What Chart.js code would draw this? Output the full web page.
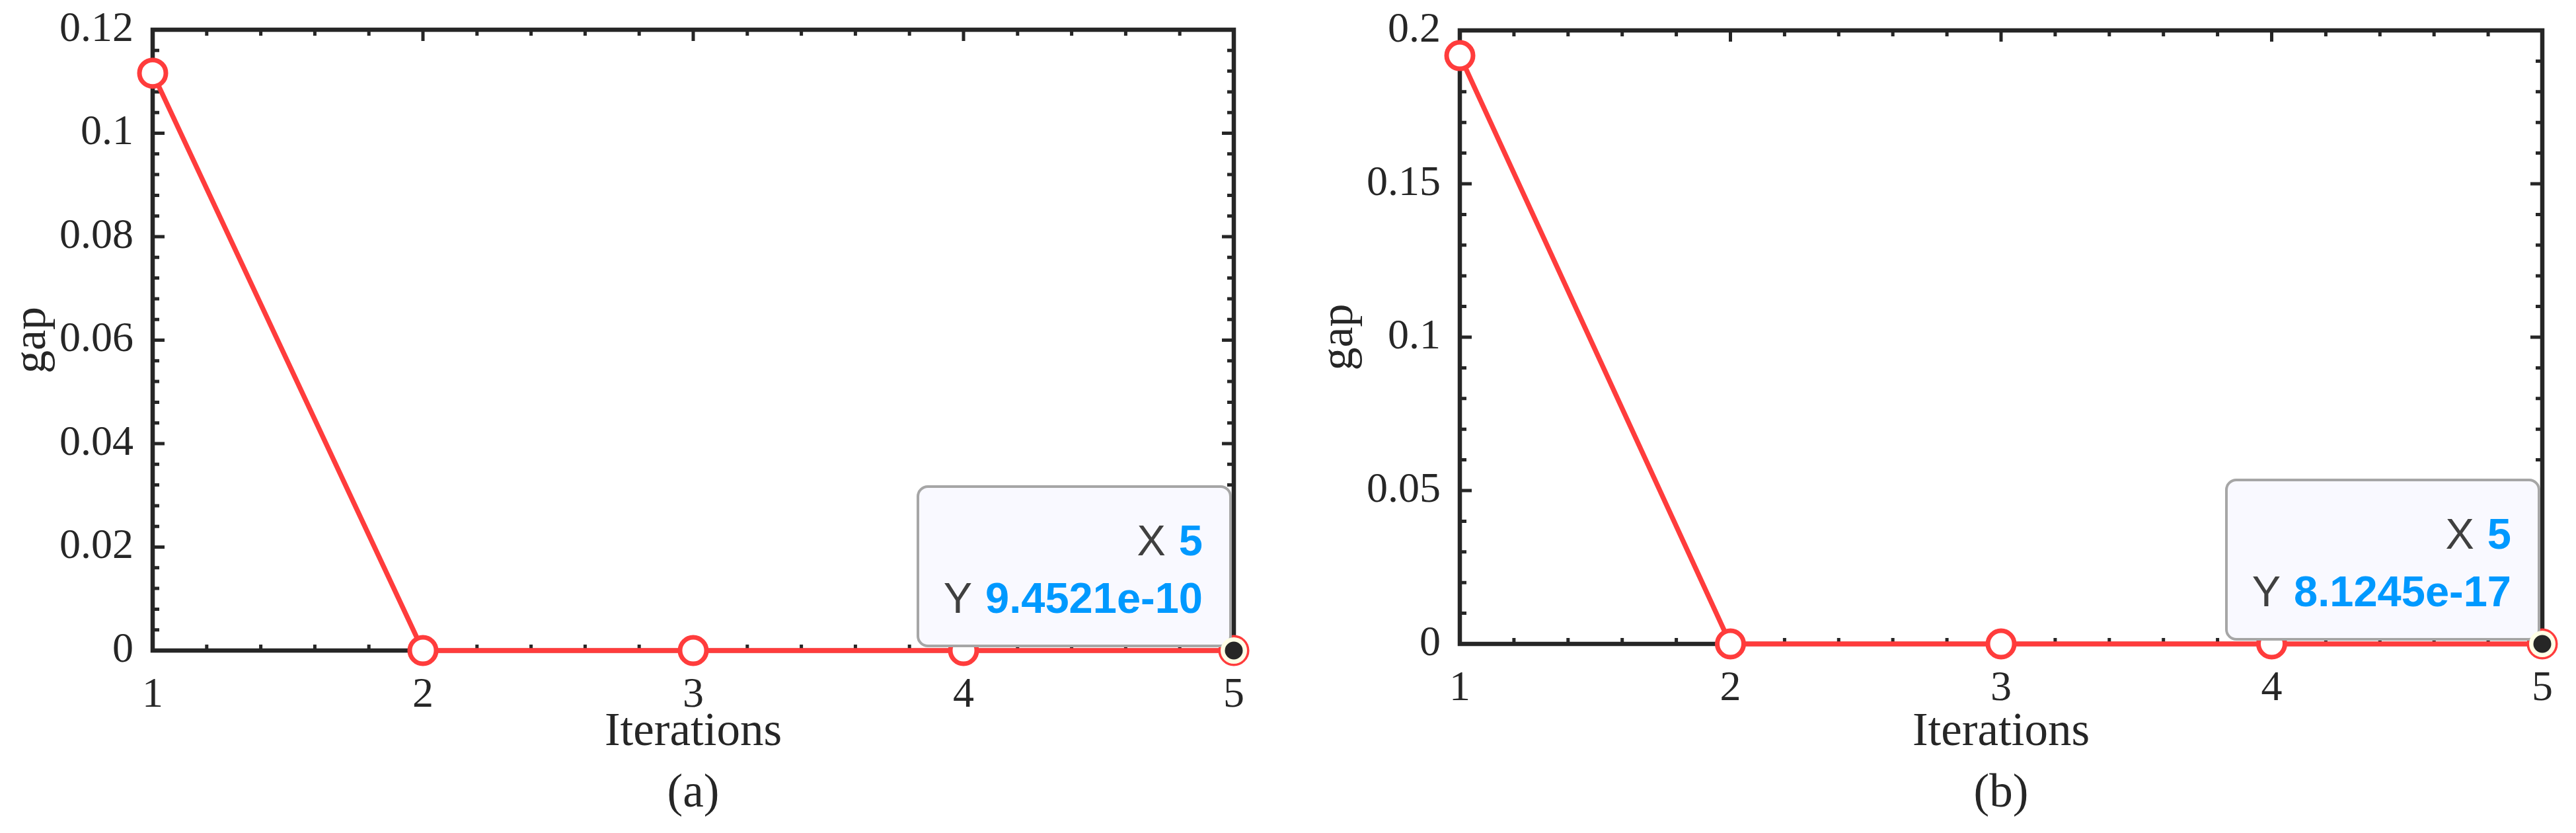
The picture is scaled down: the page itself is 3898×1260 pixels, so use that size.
<!DOCTYPE html>
<html lang="en">
<head>
    <meta charset="UTF-8">
    <title>gap vs Iterations</title>
    <script src="https://cdn.jsdelivr.net/npm/chart.js"></script>
    <style>
        html, body { margin: 0; padding: 0; background: #fff; }
        body { width: 3898px; height: 1260px; position: relative; overflow: hidden; }
        .panel { position: absolute; top: 0; }
    </style>
</head>
<body>
    <div class="panel" style="left:0px;"><canvas id="chartA" width="1949" height="1260"></canvas></div>
    <div class="panel" style="left:1978px;"><canvas id="chartB" width="1920" height="1260"></canvas></div>
    <script>
        // data
        const iterations = [1, 2, 3, 4, 5];
        const gapA = [0.1116, 0, 0, 0, 9.4521e-10];
        const gapB = [0.1918, 0, 0, 0, 8.1245e-17];

        const xTicks = [1, 2, 3, 4, 5];
        const yTicksA = [0, 0.02, 0.04, 0.06, 0.08, 0.1, 0.12];
        const yLabelsA = ['0', '0.02', '0.04', '0.06', '0.08', '0.1', '0.12'];
        const yTicksB = [0, 0.05, 0.1, 0.15, 0.2];
        const yLabelsB = ['0', '0.05', '0.1', '0.15', '0.2'];

        const ink = '#262626';
        const red = '#FF3C3C';
        const serif = '"Liberation Serif", "Times New Roman", serif';
        const sans = '"Liberation Sans", Arial, sans-serif';

        function roundBox(ctx, x, y, w, h, r) {
            ctx.beginPath();
            ctx.moveTo(x + r, y);
            ctx.lineTo(x + w - r, y);
            ctx.arcTo(x + w, y, x + w, y + r, r);
            ctx.lineTo(x + w, y + h - r);
            ctx.arcTo(x + w, y + h, x + w - r, y + h, r);
            ctx.lineTo(x + r, y + h);
            ctx.arcTo(x, y + h, x, y + h - r, r);
            ctx.lineTo(x, y + r);
            ctx.arcTo(x, y, x + r, y, r);
            ctx.closePath();
        }

        // fixed axis sizes, and no extra padding from the tick labels
        function fixSize(s, w, h) {
            if (w !== null) s.width = w;
            if (h !== null) s.height = h;
            s.paddingTop = s.paddingBottom = s.paddingLeft = s.paddingRight = 0;
        }

        // box round the axes with inward major/minor ticks on all four sides
        const frame = {
            id: 'frame',
            beforeDatasetsDraw(chart) {
                const { ctx, chartArea: a, scales } = chart;
                ctx.save();
                ctx.strokeStyle = ink;
                ctx.lineCap = 'butt';
                ctx.lineWidth = 5;
                const marks = (scale) => {
                    const v = scale.ticks.map(t => t.value);
                    const out = [];
                    for (let i = 0; i < v.length; i++) {
                        out.push([scale.getPixelForValue(v[i]), true]);
                        if (i < v.length - 1) {
                            for (let k = 1; k < 5; k++) {
                                out.push([scale.getPixelForValue(v[i] + (v[i + 1] - v[i]) * k / 5), false]);
                            }
                        }
                    }
                    return out;
                };
                ctx.beginPath();
                marks(scales.x).forEach(([p, major]) => {
                    const len = major ? 17 : 9;
                    ctx.moveTo(p, a.bottom); ctx.lineTo(p, a.bottom - len);
                    ctx.moveTo(p, a.top); ctx.lineTo(p, a.top + len);
                });
                marks(scales.y).forEach(([p, major]) => {
                    const len = major ? 18 : 10;
                    ctx.moveTo(a.left, p); ctx.lineTo(a.left + len, p);
                    ctx.moveTo(a.right, p); ctx.lineTo(a.right - len, p);
                });
                ctx.stroke();
                ctx.lineWidth = 6.5;
                ctx.strokeRect(a.left, a.top, a.right - a.left, a.bottom - a.top);
                ctx.restore();
            }
        };

        // MATLAB style data tip on the last point
        const datatip = {
            id: 'datatip',
            afterDatasetsDraw(chart) {
                const { ctx } = chart;
                const meta = chart.getDatasetMeta(0);
                const idx = meta.data.length - 1;
                const pt = meta.data[idx];
                const raw = chart.data.datasets[0].data[idx];
                const w = 473, h = 241;
                const right = pt.x - 5, bottom = pt.y - 7;
                ctx.save();
                roundBox(ctx, right - w, bottom - h, w, h, 15);
                ctx.fillStyle = '#F9F9FF';
                ctx.fill();
                ctx.lineWidth = 4;
                ctx.strokeStyle = '#A6A6A6';
                ctx.stroke();

                const rows = [['X', String(raw.x), 137], ['Y', raw.y.toExponential(4), 50]];
                ctx.textAlign = 'right';
                ctx.textBaseline = 'alphabetic';
                const tx = right - 42;
                rows.forEach(([key, val, off]) => {
                    ctx.font = 'bold 65px ' + sans;
                    const vw = ctx.measureText(val).width;
                    ctx.fillStyle = '#0099FF';
                    ctx.fillText(val, tx, bottom - off);
                    ctx.font = '65px ' + sans;
                    ctx.fillStyle = '#404040';
                    ctx.fillText(key, tx - vw - 20, bottom - off);
                });

                ctx.beginPath();
                ctx.arc(pt.x, pt.y, 20, 0, Math.PI * 2);
                ctx.fillStyle = '#FFFFE6';
                ctx.fill();
                ctx.beginPath();
                ctx.arc(pt.x, pt.y, 13.5, 0, Math.PI * 2);
                ctx.fillStyle = ink;
                ctx.fill();
                ctx.restore();
            }
        };

        function makeChart(id, gap, yTicks, yLabels, tag, top, xAxisH, padRight) {
            const ctx = document.getElementById(id).getContext('2d');
            return new Chart(ctx, {
                type: 'line',
                data: {
                    datasets: [{
                        data: iterations.map((x, i) => ({ x: x, y: gap[i] })),
                        borderColor: red,
                        borderWidth: 7.5,
                        pointRadius: 20,
                        pointHoverRadius: 20,
                        pointBorderWidth: 7,
                        pointBorderColor: red,
                        pointBackgroundColor: '#ffffff',
                        tension: 0,
                        clip: false
                    }]
                },
                options: {
                    responsive: false,
                    animation: false,
                    events: [],
                    devicePixelRatio: 1,
                    layout: {
                        autoPadding: false,
                        padding: { left: 0, right: padRight, top: top, bottom: 0 }
                    },
                    plugins: { legend: { display: false }, tooltip: { enabled: false } },
                    scales: {
                        x: {
                            type: 'linear',
                            min: xTicks[0],
                            max: xTicks[xTicks.length - 1],
                            grid: { display: false, drawTicks: false },
                            border: { display: false },
                            afterBuildTicks: s => { s.ticks = xTicks.map(v => ({ value: v })); },
                            ticks: {
                                autoSkip: false, maxRotation: 0, padding: 30, color: ink,
                                font: { family: serif, size: 64 },
                                callback: (v, i) => String(xTicks[i])
                            },
                            title: {
                                display: true, text: ['Iterations', tag], color: ink,
                                font: { family: serif, size: 71, lineHeight: 1.31 },
                                padding: { top: 0, bottom: 12 }
                            },
                            afterFit: s => fixSize(s, null, xAxisH)
                        },
                        y: {
                            type: 'linear',
                            min: yTicks[0],
                            max: yTicks[yTicks.length - 1],
                            grid: { display: false, drawTicks: false },
                            border: { display: false },
                            afterBuildTicks: s => { s.ticks = yTicks.map(v => ({ value: v })); },
                            ticks: {
                                padding: 29, color: ink,
                                font: { family: serif, size: 64 },
                                callback: (v, i) => yLabels[i]
                            },
                            title: {
                                display: true, text: 'gap', color: ink,
                                font: { family: serif, size: 70, lineHeight: 1.2 },
                                padding: { top: 8, bottom: 0 }
                            },
                            afterFit: s => fixSize(s, 231, null)
                        }
                    }
                },
                plugins: [frame, datatip]
            });
        }

        makeChart('chartA', gapA, yTicksA, yLabelsA, '(a)', 45, 276, 82);
        makeChart('chartB', gapB, yTicksB, yLabelsB, '(b)', 46, 286, 51);
    </script>
</body>
</html>
